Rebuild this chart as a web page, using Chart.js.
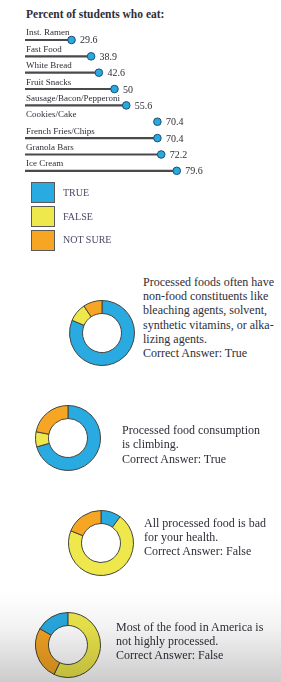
<!DOCTYPE html>
<html>
<head>
<meta charset="utf-8">
<script src="https://cdn.jsdelivr.net/npm/chart.js@4"></script>
<style>
  html, body { margin: 0; padding: 0; background: #fff; }
  body { width: 281px; height: 682px; position: relative; overflow: hidden;
         font-family: "Liberation Serif", "DejaVu Serif", serif; color: #2e2e38; }
  .abs { position: absolute; }
  #title { left: 26px; top: 7px; font-size: 11.5px; font-weight: bold; line-height: 14px; white-space: nowrap; }
  .swatch { position: absolute; left: 31px; width: 22px; height: 19px; border: 1px solid #5a5a5a; }
  .legtxt { position: absolute; left: 63px; font-size: 10px; line-height: 12px; color: #4a4a68; white-space: nowrap; }
  .q { position: absolute; font-size: 12px; line-height: 14.2px; white-space: nowrap; }
  #shade { position: absolute; left: 0; top: 592px; width: 281px; height: 90px; pointer-events: none;
           background: linear-gradient(to bottom, rgba(0,0,0,0) 0%, rgba(0,0,0,0.05) 40%, rgba(0,0,0,0.2) 100%); }
</style>
</head>
<body>
<div id="title" class="abs">Percent of students who eat:</div>
<canvas id="lolli" class="abs" width="281" height="160" style="left:0;top:24px"></canvas>
<div id="legend"></div>
<div id="donuts"></div>
<div id="shade"></div>

<script>
  // ---- data ----
  const foods = ["Inst. Ramen", "Fast Food", "White Bread", "Fruit Snacks", "Sausage/Bacon/Pepperoni",
                 "Cookies/Cake", "French Fries/Chips", "Granola Bars", "Ice Cream"];
  const percentEat = [29.6, 38.9, 42.6, 50, 55.6, 70.4, 70.4, 72.2, 79.6];

  const answers = ["TRUE", "FALSE", "NOT SURE"];
  const answerColors = ["#29abe2", "#eee84c", "#f6a623"];

  const q1Share = [81.4, 9.2, 9.4];
  const q2Share = [70.6, 7.5, 21.9];
  const q3Share = [10, 71.1, 18.9];
  const q4Share = [16.7, 57, 26.3];

  const q1Text = ["Processed foods often have", "non-food constituents like", "bleaching agents, solvent,",
                  "synthetic vitamins, or alka-", "lizing agents.", "Correct Answer: True"];
  const q2Text = ["Processed food consumption", "is climbing.", "Correct Answer: True"];
  const q3Text = ["All processed food is bad", "for your health.", "Correct Answer: False"];
  const q4Text = ["Most of the food in America is", "not highly processed.", "Correct Answer: False"];

  /* ======================
     LOLLIPOP CHART
  ====================== */
  const lolliLabels = {
    id: "lolliLabels",
    afterDatasetsDraw(chart) {
      const ctx = chart.ctx;
      const dots = chart.getDatasetMeta(1).data;
      ctx.save();
      ctx.fillStyle = "#2e2e38";
      dots.forEach(function (pt, i) {
        ctx.font = "9px 'Liberation Serif', serif";
        ctx.textAlign = "left";
        ctx.fillText(foods[i], 26, pt.y - 4.5);
        ctx.font = "10px 'Liberation Serif', serif";
        ctx.fillText(String(percentEat[i]), pt.x + 8.5, pt.y + 3.5);
      });
      ctx.restore();
    }
  };

  new Chart(document.getElementById("lolli"), {
    data: {
      labels: foods,
      datasets: [{
        type: "bar",
        data: percentEat,
        backgroundColor: foods.map(function (f) { return f === "Cookies/Cake" ? "rgba(0,0,0,0)" : "#4a4a4a"; }),
        barThickness: 1.5,
        order: 2
      }, {
        type: "line",
        indexAxis: "y",
        data: percentEat,
        showLine: false,
        pointRadius: 3.8,
        pointBackgroundColor: "#29a9e0",
        pointBorderColor: "#1c4f70",
        pointBorderWidth: 1,
        order: 1
      }]
    },
    options: {
      indexAxis: "y",
      responsive: false,
      animation: false,
      layout: { padding: { left: 25, right: 61.3, top: 7.8, bottom: 4.8 } },
      plugins: { legend: { display: false }, tooltip: { enabled: false } },
      scales: {
        x: { display: false, min: 7.5, max: 100 },
        y: { display: false, offset: true }
      }
    },
    plugins: [lolliLabels]
  });

  /* ======================
     LEGEND
  ====================== */
  const legendTops = [182, 206, 229.5];
  const legendBox = document.getElementById("legend");
  answers.forEach(function (a, i) {
    const sw = document.createElement("div");
    sw.className = "swatch";
    sw.style.top = legendTops[i] + "px";
    sw.style.background = answerColors[i];
    legendBox.appendChild(sw);
    const t = document.createElement("div");
    t.className = "legtxt";
    t.style.top = (legendTops[i] + 4.5) + "px";
    t.textContent = a;
    legendBox.appendChild(t);
  });

  /* ======================
     DONUT CHARTS
  ====================== */
  const donuts = [
    { share: q1Share, text: q1Text, cx: 101.5, cy: 333, rot: 0, tx: 143, ty: 275 },
    { share: q2Share, text: q2Text, cx: 68, cy: 438, rot: 0, tx: 122, ty: 423.2 },
    { share: q3Share, text: q3Text, cx: 101, cy: 542.5, rot: 0, tx: 144, ty: 515.6 },
    { share: q4Share, text: q4Text, cx: 67.5, cy: 645, rot: -60, tx: 116, ty: 620 }
  ];

  const holder = document.getElementById("donuts");
  donuts.forEach(function (d) {
    const size = 66;
    const c = document.createElement("canvas");
    c.width = size;
    c.height = size;
    c.className = "abs";
    c.style.left = (d.cx - size / 2) + "px";
    c.style.top = (d.cy - size / 2) + "px";
    holder.appendChild(c);

    new Chart(c, {
      type: "doughnut",
      data: {
        labels: answers,
        datasets: [{
          data: d.share,
          backgroundColor: answerColors,
          borderColor: "#44443c",
          borderWidth: 1
        }]
      },
      options: {
        responsive: false,
        animation: false,
        cutout: "60%",
        rotation: d.rot,
        plugins: { legend: { display: false }, tooltip: { enabled: false } }
      }
    });

    const p = document.createElement("div");
    p.className = "q";
    p.style.left = d.tx + "px";
    p.style.top = d.ty + "px";
    p.innerHTML = d.text.join("<br>");
    holder.appendChild(p);
  });
</script>
</body>
</html>
